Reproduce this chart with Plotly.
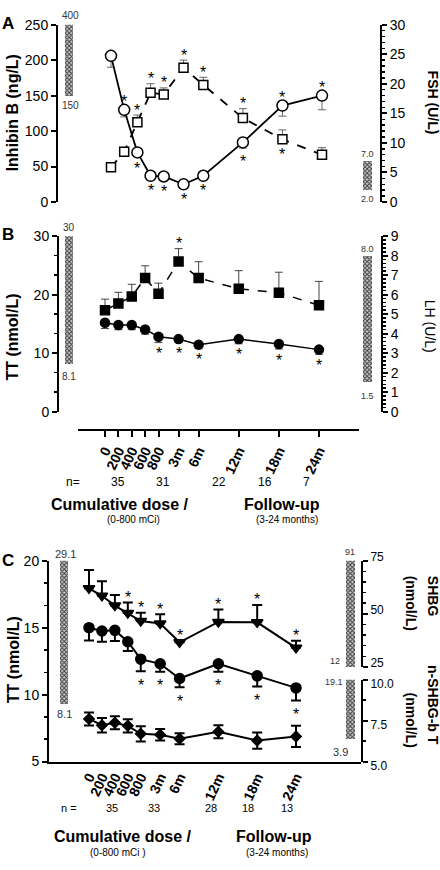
import plotly.graph_objects as go

W, H = 440, 870
def fx(p): return p / W
def fy(p): return 1 - p / H

FONT = "Liberation Sans, Arial, Helvetica, sans-serif"

# ---------------- data ----------------
tick_labels = ["0", "200", "400", "600", "800", "3m", "6m", "12m", "18m", "24m"]
x_pos = [0, 2, 4, 6, 8, 11, 14, 20, 26, 32]   # dose steps (0-800 mCi) then months of follow-up

# Panel A
inhibin_b = [206, 130, 70, 37, 36, 25, 37, 84, 136, 150]
inhibin_b_err_minus = [16, 10, 4, 3, 3, 3, 3, 8, 15, 20]
inhibin_b_stars = ["", "up", "down", "down", "down", "down", "down", "down", "up", "up"]
fsh = [5.9, 8.5, 13.5, 18.5, 18.2, 22.7, 19.8, 14.2, 10.6, 8.0]
fsh_err_plus = [0.3, 0.4, 1.2, 1.5, 1.1, 1.3, 1.3, 1.6, 1.6, 1.2]
fsh_stars = ["", "", "up", "up", "up", "up", "up", "up", "down", ""]

# Panel B
lh = [5.2, 5.55, 5.9, 6.85, 6.05, 7.7, 6.85, 6.3, 6.1, 5.45]
lh_err_plus = [0.57, 0.57, 0.63, 0.63, 0.54, 0.66, 0.84, 0.93, 1.05, 1.23]
lh_stars = ["", "", "", "", "", "up", "", "", "", ""]
tt_b = [15.2, 14.8, 14.8, 14.05, 12.8, 12.4, 11.45, 12.4, 11.55, 10.6]
tt_b_err_minus = [1.0, 0.8, 0.8, 0.8, 1.0, 0.6, 0.7, 0.8, 0.85, 0.8]
tt_b_stars = ["", "", "", "", "down", "down", "down", "down", "down", "down"]
n_b = ["35", "31", "22", "16", "7"]

# Panel C
shbg = [62.0, 58.5, 53.9, 50.4, 46.6, 45.5, 36.6, 46.2, 46.0, 34.0]
shbg_err_plus = [8.7, 6.9, 5.0, 5.0, 3.9, 4.3, 1.0, 5.9, 8.2, 3.4]
shbg_stars = ["", "", "", "up", "up", "up", "up", "up", "up", "up"]
tt_c = [15.0, 14.75, 14.8, 13.95, 12.65, 12.3, 11.2, 12.3, 11.4, 10.5]
tt_c_err_minus = [0.95, 0.8, 0.8, 0.7, 0.9, 0.6, 0.65, 0.6, 0.8, 0.95]
tt_c_stars = ["", "", "", "", "down", "down", "down", "down", "down", "down"]
nshbg_bt = [7.6, 7.22, 7.37, 7.18, 6.69, 6.63, 6.39, 6.82, 6.28, 6.53]
nshbg_bt_err = [0.4, 0.44, 0.4, 0.4, 0.47, 0.35, 0.33, 0.4, 0.5, 0.65]
n_c = ["35", "33", "28", "18", "13"]

# reference ranges (drawn extent low, high) and their labels
ref_a_inhb = [150, 400]; ref_a_inhb_lbl = ["400", "150"]
ref_a_fsh = [2.0, 7.0]; ref_a_fsh_lbl = ["7.0", "2.0"]
ref_b_tt = [8.1, 30]; ref_b_tt_lbl = ["30", "8.1"]
ref_b_lh = [1.5, 8.0]; ref_b_lh_lbl = ["8.0", "1.5"]
ref_c_tt = [9.3, 29.1]; ref_c_tt_lbl = ["29.1", "8.1"]
ref_c_shbg = [12, 91]; ref_c_shbg_lbl = ["91", "12"]
ref_c_nshbg = [6.35, 19.1]; ref_c_nshbg_lbl = ["19.1", "3.9"]

fig = go.Figure()
zeros = [0] * len(x_pos)

def series(y, xa, ya, symbol, size, mcolor, dash, lw, ep=None, em=None,
           ecolor="black", ethick=1, ecap=4, mline=1.5):
    err = dict(type="data", symmetric=False,
               array=ep if ep is not None else zeros,
               arrayminus=em if em is not None else zeros,
               color=ecolor, thickness=ethick, width=ecap)
    fig.add_trace(go.Scatter(
        x=x_pos, y=y, xaxis=xa, yaxis=ya, mode="lines+markers",
        line=dict(color="black", width=lw, dash=dash),
        marker=dict(symbol=symbol, size=size, color=mcolor,
                    line=dict(color="black", width=mline)),
        error_y=err, cliponaxis=False, showlegend=False, hoverinfo="skip"))

annotations = []

def stars(y, stars_list, xa, ya, ep=None, em=None, up_shift=5, down_shift=-15, size=16):
    for i, s in enumerate(stars_list):
        if not s:
            continue
        if s == "up":
            yy = y[i] + (ep[i] if ep else 0); sh = up_shift
        else:
            yy = y[i] - (em[i] if em else 0); sh = down_shift
        annotations.append(dict(x=x_pos[i], y=yy, xref=xa, yref=ya, text="*",
                                showarrow=False, yshift=sh, xanchor="center",
                                yanchor="middle", font=dict(size=size, color="black", family=FONT)))

# Panel A
series(fsh, "x", "y2", "square", 9, "white", "dash", 1.8, ep=fsh_err_plus, ecolor="#666")
series(inhibin_b, "x", "y", "circle", 11, "white", "solid", 1.8, em=inhibin_b_err_minus, ecolor="#666")
stars(inhibin_b, inhibin_b_stars, "x", "y", em=inhibin_b_err_minus, up_shift=8, down_shift=-13)
stars(fsh, fsh_stars, "x", "y2", ep=fsh_err_plus, up_shift=5, down_shift=-15)

# Panel B
series(lh, "x2", "y4", "square", 9, "black", "dash", 1.5, ep=lh_err_plus, ecolor="#444")
series(tt_b, "x2", "y3", "circle", 9, "black", "solid", 1.5, em=tt_b_err_minus, ecolor="#444")
stars(lh, lh_stars, "x2", "y4", ep=lh_err_plus, up_shift=5)
stars(tt_b, tt_b_stars, "x2", "y3", em=tt_b_err_minus, down_shift=-11)

# Panel C
series(shbg, "x3", "y6", "triangle-down", 10, "black", "solid", 2, ep=shbg_err_plus, ethick=2, ecap=5)
series(tt_c, "x3", "y5", "circle", 10, "black", "solid", 2, em=tt_c_err_minus, ethick=2, ecap=5)
series(nshbg_bt, "x3", "y7", "diamond", 8, "black", "solid", 2, ep=nshbg_bt_err, em=nshbg_bt_err, ethick=2, ecap=5)
stars(shbg, shbg_stars, "x3", "y6", ep=shbg_err_plus, up_shift=5)
stars(tt_c, tt_c_stars, "x3", "y5", em=tt_c_err_minus, down_shift=-14)

# Reference-range bars
def ref_bar(rng, xa, ya):
    fig.add_trace(go.Bar(
        x=[0.5], y=[rng[1] - rng[0]], base=[rng[0]], width=[1], xaxis=xa, yaxis=ya,
        marker=dict(color="#aaaaaa", line=dict(width=0),
                    pattern=dict(shape="x", size=3, solidity=0.55, fgcolor="#3a3a3a",
                                 bgcolor="#d0d0d0", fillmode="replace")),
        showlegend=False, hoverinfo="skip"))

ref_bar(ref_a_inhb, "x4", "y")
ref_bar(ref_a_fsh, "x5", "y2")
ref_bar(ref_b_tt, "x4", "y3")
ref_bar(ref_b_lh, "x5", "y4")
ref_bar(ref_c_tt, "x6", "y5")
ref_bar(ref_c_shbg, "x7", "y6")
ref_bar(ref_c_nshbg, "x7", "y7")

def ptext(px, py, text, size=12, bold=False, angle=0, color="black", xanchor="center"):
    annotations.append(dict(x=fx(px), y=fy(py), xref="paper", yref="paper",
                            text=text, showarrow=False, textangle=angle,
                            xanchor=xanchor, yanchor="middle",
                            font=dict(size=size, color=color, family=FONT,
                                      weight="bold" if bold else "normal")))

# panel letters & titles
ptext(8, 13, "A", 17, True)
ptext(12, 105, "Inhibin B (ng/L)", 16, True, -90)
ptext(433, 94, "FSH (U/L)", 14, True, 90)
ptext(8, 229, "B", 17, True)
ptext(13, 335, "TT (nmol/L)", 16, True, -90)
ptext(430, 323, "LH (U/L)", 14, False, 90)
ptext(8, 564, "C", 17, True)
ptext(13, 666, "TT (nmol/L)", 16, True, -90)
ptext(433, 600, "SHBG", 14, True, 90)
ptext(411, 607, "(nmol/L)", 14, True, 90)
ptext(433, 712, "n-SHBG-b T", 14, True, 90)
ptext(411, 727, "(nmol/L)", 14, True, 90)

# reference labels
lbl_c = "#333"
ptext(70, 5, ref_a_inhb_lbl[0], 10, color=lbl_c); ptext(70, 97, ref_a_inhb_lbl[1], 10, color=lbl_c)
ptext(367, 147, ref_a_fsh_lbl[0], 9, color=lbl_c); ptext(367, 193, ref_a_fsh_lbl[1], 9, color=lbl_c)
ptext(69, 222, ref_b_tt_lbl[0], 10, color=lbl_c); ptext(69, 375, ref_b_tt_lbl[1], 10, color=lbl_c)
ptext(367, 244, ref_b_lh_lbl[0], 9, color=lbl_c); ptext(367, 395, ref_b_lh_lbl[1], 9, color=lbl_c)
ptext(65, 557, ref_c_tt_lbl[0], 11, color=lbl_c); ptext(64, 721, ref_c_tt_lbl[1], 11, color=lbl_c)
ptext(350, 555, ref_c_shbg_lbl[0], 9, color=lbl_c); ptext(335, 667, ref_c_shbg_lbl[1], 9, color=lbl_c)
ptext(334, 688, ref_c_nshbg_lbl[0], 9, color=lbl_c); ptext(340, 760, ref_c_nshbg_lbl[1], 11, color=lbl_c)

# n rows
ptext(73, 483, "n=", 12)
for px, t in zip([118, 163, 219, 265, 306], n_b):
    ptext(px, 483, t, 12)
ptext(69, 818, "n =", 11)
for px, t in zip([112, 154, 211, 248, 287], n_c):
    ptext(px, 818, t, 11)

# bottom captions
ptext(120, 506, "Cumulative dose /", 16, True)
ptext(282, 506, "Follow-up", 16, True)
ptext(133, 522, "(0-800 mCi)", 10)
ptext(287, 522, "(3-24 months)", 10)
ptext(122, 847, "Cumulative dose /", 16, True)
ptext(274, 847, "Follow-up", 16, True)
ptext(118, 863, "(0-800 mCi )", 10)
ptext(277, 863, "(3-24 months)", 10)

axis_common = dict(showgrid=False, zeroline=False, showline=True, linecolor="black",
                   linewidth=2, ticks="outside", ticklen=5, tickwidth=2, tickcolor="black",
                   tickfont=dict(size=14, family=FONT, color="black"), fixedrange=True)

def yax(dom_px, rng, dtick, minor=None, **kw):
    d = dict(axis_common)
    d.update(domain=[fy(dom_px[1]), fy(dom_px[0])], range=rng, tickmode="linear",
             tick0=0, dtick=dtick)
    if minor:
        d["minor"] = dict(dtick=minor, ticklen=3, tickwidth=1.5, tickcolor="black", ticks="outside")
    d.update(kw)
    return d

xA0 = 111; sA = 6.594
xB0 = 105; sB = 6.6875
xC0 = 89; sC = 6.469
xtick_font = dict(size=14, family=FONT, color="black", weight="bold")
small_tick_font = dict(size=12, family=FONT, color="black")

fig.update_layout(
    width=W, height=H, margin=dict(l=0, r=0, t=0, b=0),
    paper_bgcolor="white", plot_bgcolor="rgba(0,0,0,0)",
    font=dict(family=FONT, color="black"),
    showlegend=False, bargap=0,
    xaxis=dict(domain=[fx(58), fx(380)], range=[(58 - xA0) / sA, (380 - xA0) / sA],
               visible=False, anchor="y", fixedrange=True),
    yaxis=yax((14, 196), [0, 250], 50, anchor="x", side="left"),
    yaxis2=yax((14, 196), [0, 30], 5, 1, anchor="x", side="right"),
    xaxis2=dict(axis_common, domain=[fx(78), fx(359)],
                range=[(78 - xB0) / sB, (359 - xB0) / sB], anchor="free", position=fy(430),
                tickmode="array", tickvals=x_pos, ticktext=tick_labels, tickangle=-65,
                ticklen=6, tickfont=xtick_font),
    yaxis3=yax((231, 411), [0, 30], 10, 10 / 3, anchor="free", position=fx(58), side="left"),
    yaxis4=yax((231, 411), [0, 9], 1, 0.2, anchor="free", position=fx(382), side="right"),
    xaxis3=dict(axis_common, domain=[fx(49), fx(361)],
                range=[(49 - xC0) / sC, (361 - xC0) / sC], anchor="y5",
                tickmode="array", tickvals=x_pos, ticktext=tick_labels, tickangle=-65,
                ticks="", tickfont=xtick_font),
    yaxis5=yax((564, 770), [5, 20], 5, 5 / 3, anchor="x3", side="left"),
    yaxis6=yax((564, 673), [25, 75], 25, 5, anchor="x3", side="right", tickfont=small_tick_font,
               ticklabelshift=-4),
    yaxis7=yax((686, 770), [5, 10], 2.5, 1.25, anchor="x3", side="right", tickformat=".1f",
               tickfont=small_tick_font, ticklabelshift=4),
    xaxis4=dict(domain=[fx(65), fx(73)], range=[0, 1], visible=False, fixedrange=True),
    xaxis5=dict(domain=[fx(363), fx(372)], range=[0, 1], visible=False, fixedrange=True),
    xaxis6=dict(domain=[fx(60), fx(68)], range=[0, 1], visible=False, fixedrange=True),
    xaxis7=dict(domain=[fx(346), fx(355)], range=[0, 1], visible=False, fixedrange=True),
    annotations=annotations,
)

fig.write_html("out.html", config={"displayModeBar": False, "staticPlot": True},
               post_script="document.body.style.margin='0';document.body.style.overflow='hidden';")
